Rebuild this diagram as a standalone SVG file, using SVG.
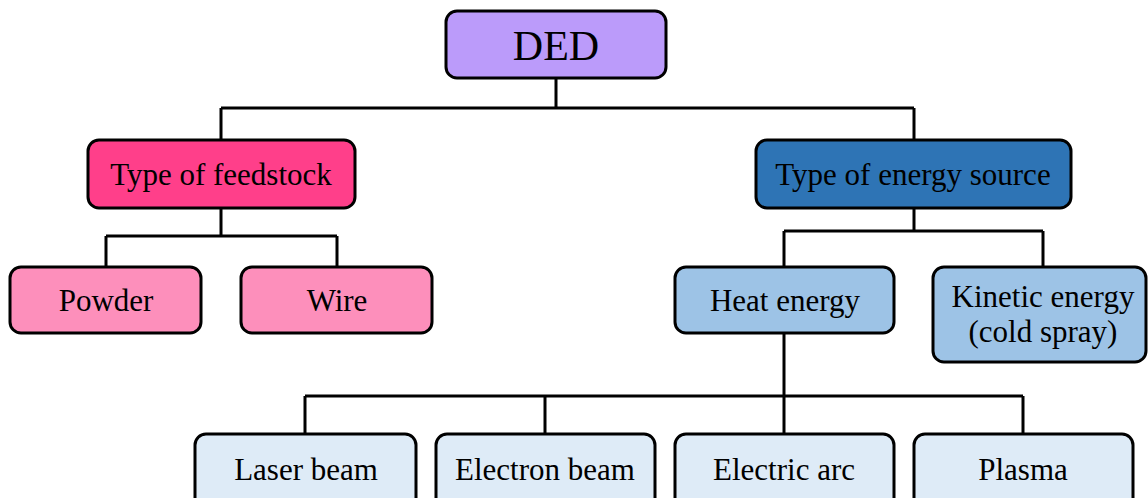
<svg xmlns="http://www.w3.org/2000/svg" width="1148" height="498" viewBox="0 0 1148 498">
<style>
.box{stroke:#000;stroke-width:3;}
.t{font-family:"Liberation Serif","Times New Roman",serif;font-size:31px;fill:#000;text-anchor:middle;}
.big{font-size:42px;}
.con{fill:none;stroke:#000;stroke-width:3;}
</style>
<rect width="1148" height="498" fill="#fff"/>
<g id="connectors">
<path class="con" d="M556 78V108M221 108H914M221 108V140M914 108V140"/>
<path class="con" d="M221 208V236M106 236H337M106 236V267M337 236V267"/>
<path class="con" d="M914 208V231M784 231H1043M784 231V267M1043 231V267"/>
<path class="con" d="M784 333V396M305 396H1023M305 396V434M545 396V434M784 396V434M1023 396V434"/>
</g>
<g id="ded"><rect class="box" x="446" y="11" width="220" height="67" rx="11" fill="#BB9BFA"/><text class="t big" x="556" y="60">DED</text></g>
<g id="feedstock"><rect class="box" x="88" y="140" width="267" height="68" rx="11" fill="#FF3F8A"/><text class="t" x="221" y="185">Type of feedstock</text></g>
<g id="energy"><rect class="box" x="756" y="140" width="315" height="68" rx="11" fill="#2E74B5"/><text class="t" x="913" y="185">Type of energy source</text></g>
<g id="powder"><rect class="box" x="10" y="267" width="191" height="66" rx="11" fill="#FD8FBB"/><text class="t" x="106" y="311">Powder</text></g>
<g id="wire"><rect class="box" x="241" y="267" width="191" height="66" rx="11" fill="#FD8FBB"/><text class="t" x="337" y="311">Wire</text></g>
<g id="heat"><rect class="box" x="675" y="267" width="219" height="66" rx="11" fill="#9DC3E6"/><text class="t" x="785" y="311">Heat energy</text></g>
<g id="kinetic"><rect class="box" x="933" y="267" width="213" height="95" rx="11" fill="#9DC3E6"/><text class="t" x="1043" y="307">Kinetic energy</text><text class="t" x="1043" y="342">(cold spray)</text></g>
<g id="laser"><rect class="box" x="195" y="434" width="221" height="80" rx="11" fill="#DEEBF7"/><text class="t" x="306" y="480">Laser beam</text></g>
<g id="electron"><rect class="box" x="436" y="434" width="219" height="80" rx="11" fill="#DEEBF7"/><text class="t" x="545" y="480">Electron beam</text></g>
<g id="arc"><rect class="box" x="675" y="434" width="219" height="80" rx="11" fill="#DEEBF7"/><text class="t" x="784" y="480">Electric arc</text></g>
<g id="plasma"><rect class="box" x="914" y="434" width="219" height="80" rx="11" fill="#DEEBF7"/><text class="t" x="1023" y="480">Plasma</text></g>
</svg>
